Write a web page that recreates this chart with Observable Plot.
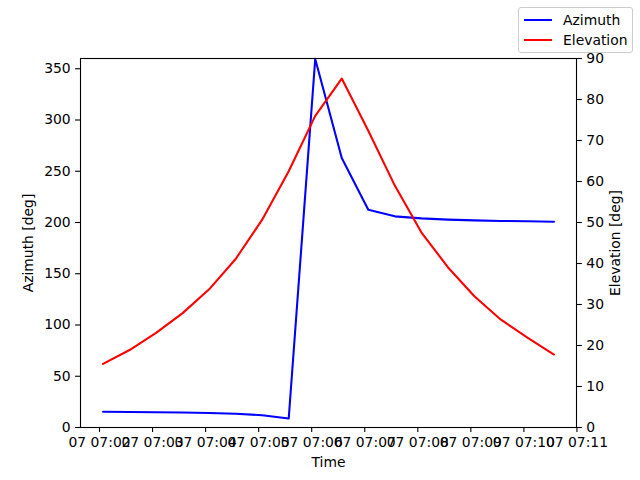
<!DOCTYPE html>
<html>
<head>
<meta charset="utf-8">
<script src="https://cdn.jsdelivr.net/npm/d3@7"></script>
<script src="https://cdn.jsdelivr.net/npm/@observablehq/plot@0.6"></script>
<style>
  body { margin: 0; background: #fff; }
  #wrap { position: relative; width: 640px; height: 480px; font-family: "DejaVu Sans", sans-serif; }
  #legend {
    position: absolute; left: 518px; top: 7px; width: 113px; height: 44px;
    background: rgba(255,255,255,0.8); border: 1px solid #cccccc; border-radius: 3px;
    font-size: 13.9px; color: #000;
  }
  .entry { position: absolute; left: 5px; height: 20px; display: flex; align-items: center; }
  .swatch { width: 28px; height: 2px; margin-right: 11px; }
</style>
</head>
<body>
<div id="wrap">
  <div id="chart"></div>
  <div id="legend"></div>
</div>
<script>
const times = ["07:02:04","07:02:34","07:03:04","07:03:34","07:04:04","07:04:34","07:05:04","07:05:34","07:06:04","07:06:34","07:07:04","07:07:34","07:08:04","07:08:34","07:09:04","07:09:34","07:10:04","07:10:34"];
const azimuth = [15.3,15.1,14.9,14.6,14.1,13.4,12.0,8.8,359.6,263,212.5,206,204,202.8,202.1,201.5,201.2,200.8];
const elevation = [15.5,18.9,23.1,27.9,33.7,41.1,50.7,62.5,76.0,85.1,72.4,59.0,47.6,39.1,32.0,26.3,21.9,17.8];
const xTickLabels = ["07:02","07:03","07:04","07:05","07:06","07:07","07:08","07:09","07:10","07:11"];
const azTicks = [0,50,100,150,200,250,300,350];
const elTicks = [0,10,20,30,40,50,60,70,80,90];
const seriesNames = ["Azimuth","Elevation"];
const seriesColors = ["#0000ff","#ff0000"];

const day = "2024-01-07T";
const parse = s => new Date(day + s + "Z");
const data = times.map((t, i) => ({time: parse(t), az: azimuth[i], el: elevation[i]}));
const t0 = data[0].time, t1 = data[data.length - 1].time;
const pad = (t1 - t0) * 0.05;
const azMax = 360, elMax = 90, k = azMax / elMax;

const chart = Plot.plot({
  width: 640, height: 480,
  marginLeft: 80, marginRight: 64, marginTop: 58, marginBottom: 53,
  style: {fontFamily: "DejaVu Sans", fontSize: "13.9px", color: "#000", background: "#fff"},
  x: {type: "utc", domain: [new Date(+t0 - pad), new Date(+t1 + pad)]},
  y: {domain: [0, azMax]},
  marks: [
    Plot.line(data, {x: "time", y: "az", stroke: seriesColors[0], strokeWidth: 2.08, curve: "linear"}),
    Plot.line(data, {x: "time", y: d => d.el * k, stroke: seriesColors[1], strokeWidth: 2.08, curve: "linear"}),
    Plot.frame({stroke: "#000", strokeWidth: 1.1}),
    Plot.axisX({
      ticks: xTickLabels.map(parse), tickFormat: d3.utcFormat("%d %H:%M"),
      tickSize: 4.9, tickPadding: 4.9, strokeWidth: 1.1,
      label: "Time", labelAnchor: "center", labelArrow: "none", labelOffset: 39
    }),
    Plot.axisY({
      anchor: "left", ticks: azTicks, tickSize: 4.9, tickPadding: 4.9, strokeWidth: 1.1,
      label: "Azimuth [deg]", labelAnchor: "center", labelArrow: "none", labelOffset: 57
    }),
    Plot.axisY({
      anchor: "right", ticks: elTicks.map(v => v * k), tickFormat: v => String(Math.round(v / k)),
      tickSize: 4.9, tickPadding: 4.9, strokeWidth: 1.1, label: null
    }),
    Plot.text(["Elevation [deg]"], {
      text: d => d, frameAnchor: "right", rotate: -90, dx: 39.5,
      textAnchor: "middle", lineAnchor: "middle", fill: "#000"
    })
  ]
});
document.getElementById("chart").appendChild(chart);

const legend = document.getElementById("legend");
seriesNames.forEach((name, i) => {
  const e = document.createElement("div");
  e.className = "entry";
  e.style.top = (2 + i * 20) + "px";
  const s = document.createElement("div");
  s.className = "swatch";
  s.style.background = seriesColors[i];
  const t = document.createElement("span");
  t.textContent = name;
  e.appendChild(s); e.appendChild(t);
  legend.appendChild(e);
});
</script>
</body>
</html>
